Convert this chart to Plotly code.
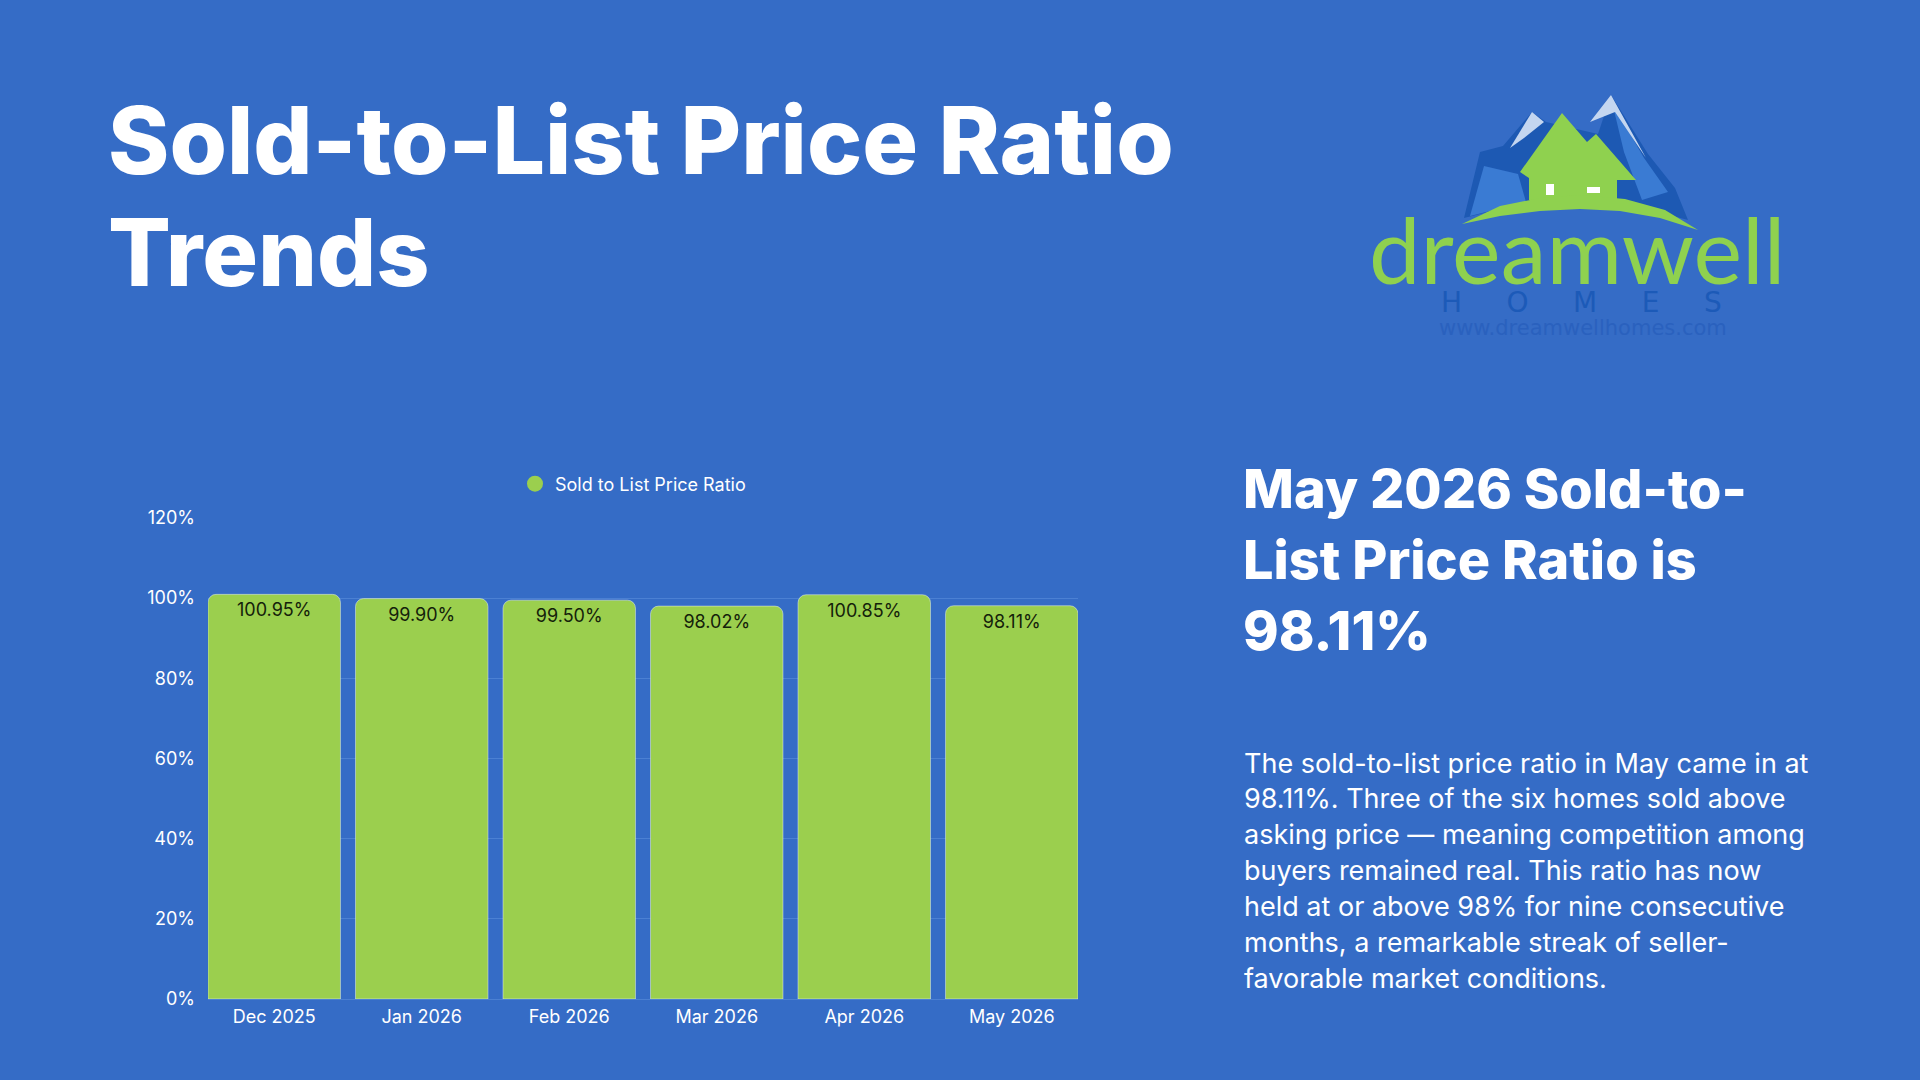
import plotly.graph_objects as go

# chart data
months = ["Dec 2025", "Jan 2026", "Feb 2026", "Mar 2026", "Apr 2026", "May 2026"]
ratios = [100.95, 99.90, 99.50, 98.02, 100.85, 98.11]
y_ticks = [0, 20, 40, 60, 80, 100, 120]
y_tick_labels = ["0%", "20%", "40%", "60%", "80%", "100%", "120%"]

series_name = "Sold to List Price Ratio"
title_lines = ["Sold-to-List Price Ratio", "Trends"]
heading_lines = ["May 2026 Sold-to-", "List Price Ratio is", "98.11%"]
body_lines = [
    "The sold-to-list price ratio in May came in at",
    "98.11%. Three of the six homes sold above",
    "asking price \u2014 meaning competition among",
    "buyers remained real. This ratio has now",
    "held at or above 98% for nine consecutive",
    "months, a remarkable streak of seller-",
    "favorable market conditions.",
]

W, H = 1920, 1080
BG = "#356CC6"
GREEN = "#9BCF4E"
LOGO_GREEN = "#8FD14F"
GRID = "#4B80D3"
FONT = "Inter"


def px(x):
    return x / W


def py(y):
    return 1 - y / H


def path(points):
    # pixel points -> closed svg path in paper coords
    s = "M " + " L ".join(f"{px(x):.5f},{py(y):.5f}" for x, y in points)
    return s + " Z"


bargap = 0.102

fig = go.Figure()

fig.add_trace(go.Bar(
    x=months,
    y=ratios,
    marker=dict(color=GREEN, cornerradius=8),
    showlegend=False,
    hoverinfo="x+y",
))

# value labels just under the top of each bar (invisible markers push the text down)
fig.add_trace(go.Scatter(
    x=months,
    y=ratios,
    mode="markers+text",
    marker=dict(size=12, color="rgba(0,0,0,0)"),
    text=[f"{v:.2f}%" for v in ratios],
    textposition="bottom center",
    textfont=dict(family=FONT, size=18, color="#14210a"),
    showlegend=False,
    hoverinfo="skip",
))

# legend entry with a round marker
fig.add_trace(go.Scatter(
    x=[None], y=[None], mode="markers", name=series_name,
    marker=dict(color=GREEN, size=16, symbol="circle"),
))

annotations = []

# big title
for i, line in enumerate(title_lines):
    annotations.append(dict(
        x=px(106), y=py([140, 252][i]), xref="paper", yref="paper",
        xanchor="left", yanchor="middle", showarrow=False, text=line,
        font=dict(family=FONT, size=93, color="white", weight=800),
    ))

# right side heading
for i, line in enumerate(heading_lines):
    annotations.append(dict(
        x=px(1241), y=py([488, 559, 630][i]), xref="paper", yref="paper",
        xanchor="left", yanchor="middle", showarrow=False, text=line,
        font=dict(family=FONT, size=54, color="white", weight=800),
    ))

# right side paragraph
for i, line in enumerate(body_lines):
    annotations.append(dict(
        x=px(1242), y=py(763 + i * 35.9), xref="paper", yref="paper",
        xanchor="left", yanchor="middle", showarrow=False, text=line,
        font=dict(family=FONT, size=27, color="white"),
    ))

# logo text
gap = "&nbsp;" * 5
annotations += [
    dict(x=px(1577), y=py(248), xref="paper", yref="paper", showarrow=False,
         text="dreamwell", xanchor="center", yanchor="middle",
         font=dict(family="Lato", size=92, color=LOGO_GREEN)),
    dict(x=px(1581), y=py(302), xref="paper", yref="paper", showarrow=False,
         text=gap.join("HOMES"), xanchor="center", yanchor="middle",
         font=dict(family="DejaVu Sans", size=28, color="#1C5AB8")),
    dict(x=px(1583), y=py(328), xref="paper", yref="paper", showarrow=False,
         text="www.dreamwellhomes.com", xanchor="center", yanchor="middle",
         font=dict(family="DejaVu Sans", size=21, color="#2A61BE")),
]

shapes = [
    # blue mountains
    dict(type="path", xref="paper", yref="paper", line_width=0, fillcolor="#1D59B3",
         path=path([(1464, 218), (1480, 152), (1503, 146), (1532, 112), (1546, 122),
                    (1598, 134), (1611, 95), (1648, 154), (1675, 188), (1688, 220),
                    (1620, 202), (1580, 198), (1520, 204)])),
    # lighter faces
    dict(type="path", xref="paper", yref="paper", line_width=0, fillcolor="#3A7BD3",
         path=path([(1470, 216), (1484, 166), (1518, 174), (1526, 202)])),
    dict(type="path", xref="paper", yref="paper", line_width=0, fillcolor="#3A7BD3",
         path=path([(1612, 102), (1644, 158), (1668, 192), (1642, 200), (1624, 152)])),
    # snow caps
    dict(type="path", xref="paper", yref="paper", line_width=0, fillcolor="#C4D6F0",
         path=path([(1510, 148), (1532, 112), (1544, 122), (1524, 138)])),
    dict(type="path", xref="paper", yref="paper", line_width=0, fillcolor="#C4D6F0",
         path=path([(1590, 122), (1611, 95), (1646, 158), (1615, 112)])),
    # green house
    dict(type="path", xref="paper", yref="paper", line_width=0, fillcolor=LOGO_GREEN,
         path=path([(1520, 172), (1562, 113), (1587, 142), (1596, 134), (1636, 180),
                    (1617, 180), (1617, 200), (1529, 200), (1529, 178)])),
    # green arc
    dict(type="path", xref="paper", yref="paper", line_width=0, fillcolor=LOGO_GREEN,
         path=path([(1462, 224), (1500, 206), (1540, 198), (1580, 195), (1625, 199),
                    (1665, 210), (1698, 230), (1660, 218), (1620, 211), (1580, 209),
                    (1540, 211), (1500, 216)])),
    # windows
    dict(type="rect", xref="paper", yref="paper", line_width=0, fillcolor="white",
         x0=px(1546), x1=px(1554), y0=py(195), y1=py(184)),
    dict(type="rect", xref="paper", yref="paper", line_width=0, fillcolor="white",
         x0=px(1587), x1=px(1600), y0=py(193), y1=py(187)),
]

fig.update_layout(
    width=W, height=H,
    margin=dict(l=0, r=0, t=0, b=0, autoexpand=False),
    paper_bgcolor=BG, plot_bgcolor=BG,
    font=dict(family=FONT, color="white"),
    bargap=bargap,
    showlegend=True,
    legend=dict(
        orientation="h", x=px(515), y=py(484), xanchor="left", yanchor="middle",
        font=dict(family=FONT, size=18, color="white"), bgcolor="rgba(0,0,0,0)",
    ),
    xaxis=dict(
        domain=[px(208), px(1078)],
        range=[-0.5 + bargap / 2, 5.5 - bargap / 2],
        showgrid=False, showline=False, zeroline=False, ticks="",
        tickfont=dict(family=FONT, size=18, color="white"),
        ticklabelstandoff=5,
    ),
    yaxis=dict(
        domain=[py(999), py(518)],
        range=[0, 120],
        tickvals=y_ticks, ticktext=y_tick_labels,
        showgrid=True, gridcolor=GRID, gridwidth=1,
        zeroline=True, zerolinecolor=GRID, zerolinewidth=1,
        showline=False, ticks="",
        tickfont=dict(family=FONT, size=18, color="white"),
        ticklabelstandoff=12,
    ),
    annotations=annotations,
    shapes=shapes,
)

# page without default margins so the 1920x1080 figure fills the window exactly
page_fix = (
    "var s=document.documentElement.style;s.margin='0';s.padding='0';s.overflow='hidden';"
    "var b=document.body.style;b.margin='0';b.padding='0';b.overflow='hidden';"
)
fig.write_html("out.html", config={"displayModeBar": False}, post_script=page_fix)
